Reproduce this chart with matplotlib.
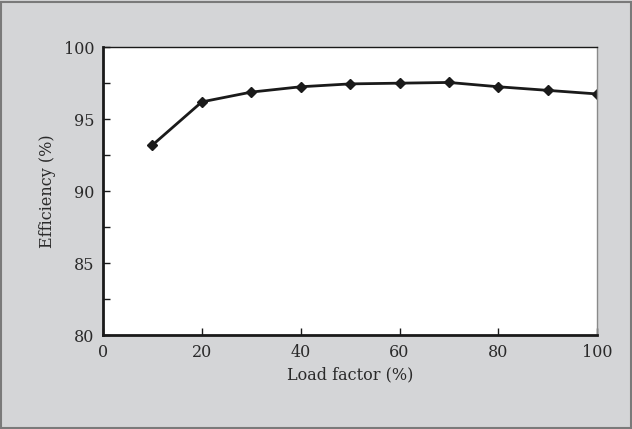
import matplotlib

matplotlib.use("Agg")
import matplotlib.pyplot as plt
from matplotlib.patches import Rectangle
from matplotlib.ticker import MultipleLocator

load_factor = [10, 20, 30, 40, 50, 60, 70, 80, 90, 100]
efficiency = [93.2, 96.2, 96.88, 97.25, 97.45, 97.5, 97.55, 97.25, 97.0, 96.75]

plt.rcParams["font.family"] = ["DejaVu Serif"]
plt.rcParams["font.size"] = 11.5
plt.rcParams["text.color"] = "#2a2a2a"
plt.rcParams["axes.labelcolor"] = "#2a2a2a"

fig = plt.figure(figsize=(6.32, 4.29), dpi=100)
fig.patch.set_facecolor("#d4d5d7")
fig.patches.append(Rectangle((0.002, 0.002), 0.996, 0.994, transform=fig.transFigure,
                             fill=False, edgecolor="#7a7a7a", linewidth=1.5))

ax = fig.add_axes([0.163, 0.219, 0.782, 0.671])
ax.set_facecolor("white")
ax.plot(load_factor, efficiency, color="#1a1a1a", linewidth=2.0, marker="D", markersize=5.5)

ax.set_xlim(0, 100)
ax.set_ylim(80, 100)
ax.xaxis.set_major_locator(MultipleLocator(20))
ax.yaxis.set_major_locator(MultipleLocator(5))
ax.yaxis.set_minor_locator(MultipleLocator(2.5))
ax.tick_params(axis="both", which="both", direction="in", length=5, width=1,
               color="#1a1a1a", labelcolor="#2a2a2a")
ax.tick_params(axis="x", pad=6.5)
ax.tick_params(axis="y", pad=6)

ax.spines["left"].set_linewidth(2.0)
ax.spines["bottom"].set_linewidth(2.0)
ax.spines["top"].set_linewidth(1.0)
ax.spines["right"].set_linewidth(1.0)
ax.spines["right"].set_color("#8a8a8a")
for side in ("left", "bottom", "top"):
    ax.spines[side].set_color("#1a1a1a")

ax.set_xlabel("Load factor (%)", labelpad=4)
ax.set_ylabel("Efficiency (%)", labelpad=6)

fig.savefig("out.png", dpi=100, facecolor=fig.get_facecolor())
